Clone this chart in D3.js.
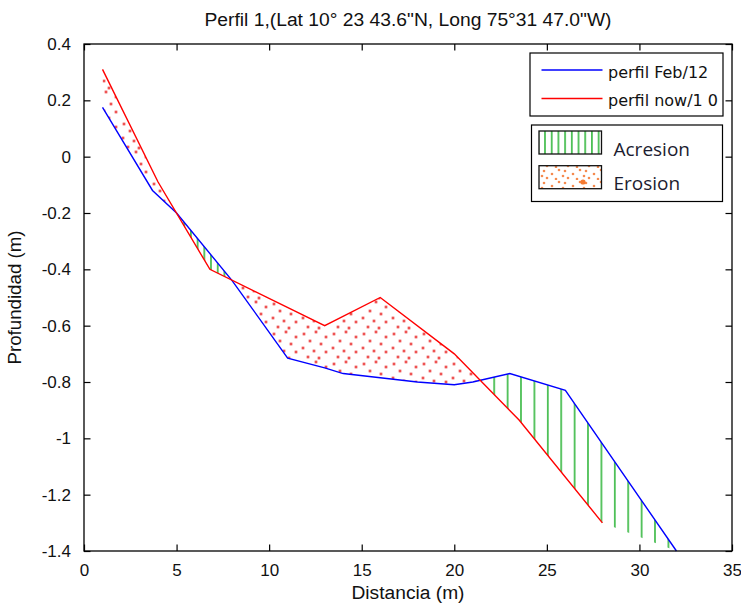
<!DOCTYPE html>
<html><head><meta charset="utf-8">
<script src="https://cdn.jsdelivr.net/npm/d3@7"></script>
<style>body{margin:0;background:#fff} svg{display:block}</style>
</head><body>
<svg id="c" width="741" height="605"></svg>
<script>
// ---- data ----
const distFeb = [1, 3.7, 5, 8, 11, 13, 14, 16, 18, 20, 21, 23, 26, 32];
const profFeb = [0.175, -0.12, -0.2, -0.44, -0.715, -0.75, -0.77, -0.785, -0.8, -0.81, -0.8, -0.77, -0.83, -1.4];
const distNov = [1, 4, 6.8, 13, 16, 20, 23.5, 28];
const profNov = [0.31, -0.09, -0.4, -0.6, -0.5, -0.7, -0.935, -1.3];
const xTicks = [0, 5, 10, 15, 20, 25, 30, 35];
const yTicks = [0.4, 0.2, 0, -0.2, -0.4, -0.6, -0.8, -1, -1.2, -1.4];
const seriesNames = ["perfil Feb/12", "perfil now/1 0"];
const fillNames = ["Acresion", "Erosion"];
const titleText = 'Perfil 1,(Lat 10\u00b0 23 43.6"N, Long 75\u00b031 47.0"W)';
const xLabel = "Distancia (m)";
const yLabel = "Profundidad (m)";

// ---- layout ----
const L = 84, R = 732, T = 44, B = 551;
const svg = d3.select("#c");
const x = d3.scaleLinear().domain([0, 35]).range([L, R]);
const y = d3.scaleLinear().domain([-1.4, 0.4]).range([B, T]);
const AX_FONT = "'Liberation Sans', Arial, sans-serif";

const blue = distFeb.map((d, i) => [d, profFeb[i]]);
const red = distNov.map((d, i) => [d, profNov[i]]);
const redExt = red.concat([blue[blue.length - 1]]);

function interp(pts, xv) {
  for (let i = 1; i < pts.length; i++) {
    const [x0, y0] = pts[i - 1], [x1, y1] = pts[i];
    if (xv >= x0 && xv <= x1) return y0 + (y1 - y0) * (xv - x0) / (x1 - x0);
  }
  return NaN;
}

// ---- defs: patterns ----
const defs = svg.append("defs");
function hatch(id, sp, ox) {
  const p = defs.append("pattern").attr("id", id).attr("patternUnits", "userSpaceOnUse")
    .attr("width", sp).attr("height", 20).attr("x", ox).attr("y", 0);
  p.append("line").attr("x1", 0.9).attr("x2", 0.9).attr("y1", 0).attr("y2", 20)
    .attr("stroke", "#4cbf55").attr("stroke-width", 1.8);
}
hatch("hatchFine", 6.7, 190);
hatch("hatchCoarse", 13.4, 493.3);
hatch("hatchLeg", 6.7, 545 - 0.9);

const dotPos = [[4,4],[16,2],[26,7],[10,11],[21,14],[3,18],[14,21],[26,22],[8,27],[19,28]];
const dp = defs.append("pattern").attr("id", "dots").attr("patternUnits", "userSpaceOnUse")
  .attr("width", 30).attr("height", 30);
dp.selectAll("circle.h").data(dotPos).join("circle").attr("cx", d => d[0]).attr("cy", d => d[1])
  .attr("r", 2.1).attr("fill", "#f9c4c4");
dp.selectAll("circle.c").data(dotPos).join("circle").attr("cx", d => d[0]).attr("cy", d => d[1])
  .attr("r", 1.2).attr("fill", "#ee5050");

const legDots = [[4,3],[12,6],[19,2],[7,10],[16,11],[2,8]];
const lp = defs.append("pattern").attr("id", "legdots").attr("patternUnits", "userSpaceOnUse")
  .attr("width", 21).attr("height", 12).attr("x", 540).attr("y", 168);
lp.selectAll("circle").data(legDots).join("circle").attr("cx", d => d[0]).attr("cy", d => d[1])
  .attr("r", 1.3).attr("fill", "#f58a4e");

// ---- difference regions ----
const grid = Array.from(new Set(distFeb.concat(distNov))).sort((a, b) => a - b);
const pts = grid.map(g => ({ x: g, b: interp(blue, g), r: interp(redExt, g) }));
const full = [pts[0]];
for (let i = 1; i < pts.length; i++) {
  const p = pts[i - 1], q = pts[i];
  const d1 = p.b - p.r, d2 = q.b - q.r;
  if (d1 * d2 < 0) {
    const t = d1 / (d1 - d2);
    const xv = p.x + t * (q.x - p.x), yv = p.b + t * (q.b - p.b);
    full.push({ x: xv, b: yv, r: yv });
  }
  full.push(q);
}
const polys = [];
let cur = [full[0]];
for (let i = 1; i < full.length; i++) {
  cur.push(full[i]);
  const d = full[i].b - full[i].r;
  if (Math.abs(d) < 1e-12 && i < full.length - 1) { polys.push(cur); cur = [full[i]]; }
}
if (cur.length > 1) polys.push(cur);

const gFill = svg.append("g");
polys.forEach(pl => {
  const s = d3.sum(pl, p => p.b - p.r);
  const ring = pl.map(p => [x(p.x), y(p.b)]).concat(pl.slice().reverse().map(p => [x(p.x), y(p.r)]));
  const wpx = x(pl[pl.length - 1].x) - x(pl[0].x);
  const fill = s > 0 ? (wpx < 80 ? "url(#hatchFine)" : "url(#hatchCoarse)") : "url(#dots)";
  gFill.append("path").attr("d", "M" + ring.map(c => c.join(",")).join("L") + "Z")
    .attr("fill", fill).attr("stroke", "none");
});

// ---- lines ----
const line = d3.line().x(d => x(d[0])).y(d => y(d[1]));
svg.append("path").datum(blue).attr("d", line).attr("fill", "none").attr("stroke", "#0000ff").attr("stroke-width", 1.4);
svg.append("path").datum(red).attr("d", line).attr("fill", "none").attr("stroke", "#ff0000").attr("stroke-width", 1.4);

// ---- axes ----
const TK = 6.5;
function styleAxis(g) {
  g.select(".domain").remove();
  g.selectAll(".tick line").attr("stroke", "#000").attr("stroke-width", 1.2);
  g.selectAll("text").attr("font-family", AX_FONT).attr("font-size", 17).attr("fill", "#111");
}
svg.append("g").attr("transform", `translate(0,${B})`)
  .call(d3.axisBottom(x).tickValues(xTicks).tickSize(-TK).tickPadding(13).tickFormat(d => String(d)))
  .call(styleAxis);
svg.append("g").attr("transform", `translate(0,${T})`)
  .call(d3.axisTop(x).tickValues(xTicks).tickSize(-TK).tickFormat(""))
  .call(styleAxis);
svg.append("g").attr("transform", `translate(${L},0)`)
  .call(d3.axisLeft(y).tickValues(yTicks).tickSize(-TK).tickPadding(13).tickFormat(d => String(d)))
  .call(styleAxis);
svg.append("g").attr("transform", `translate(${R},0)`)
  .call(d3.axisRight(y).tickValues(yTicks).tickSize(-TK).tickFormat(""))
  .call(styleAxis);
svg.append("rect").attr("x", L).attr("y", T).attr("width", R - L).attr("height", B - T)
  .attr("fill", "none").attr("stroke", "#000").attr("stroke-width", 1.3);

// ---- titles ----
svg.append("text").attr("x", (L + R) / 2).attr("y", 26).attr("text-anchor", "middle")
  .attr("font-family", AX_FONT).attr("font-size", 18).attr("fill", "#111")
  .attr("textLength", 407).attr("lengthAdjust", "spacingAndGlyphs").text(titleText);
svg.append("text").attr("x", (L + R) / 2).attr("y", 599).attr("text-anchor", "middle")
  .attr("font-family", AX_FONT).attr("font-size", 18).attr("fill", "#111")
  .attr("textLength", 113).attr("lengthAdjust", "spacingAndGlyphs").text(xLabel);
svg.append("text").attr("transform", `translate(21,${(T + B) / 2}) rotate(-90)`).attr("text-anchor", "middle")
  .attr("font-family", AX_FONT).attr("font-size", 18).attr("fill", "#111")
  .attr("textLength", 134).attr("lengthAdjust", "spacingAndGlyphs").text(yLabel);

// ---- legend 1 ----
const LEG_FONT = "'DejaVu Sans', Verdana, sans-serif";
svg.append("rect").attr("x", 530).attr("y", 53).attr("width", 193).attr("height", 63)
  .attr("fill", "#fff").attr("stroke", "#000").attr("stroke-width", 1.2);
const lcol = ["#0000ff", "#ff0000"];
seriesNames.forEach((n, i) => {
  const yy = 70 + i * 28.5;
  svg.append("line").attr("x1", 541.5).attr("x2", 602.5).attr("y1", yy).attr("y2", yy)
    .attr("stroke", lcol[i]).attr("stroke-width", 1.4);
  svg.append("text").attr("x", 608).attr("y", yy + 7.5).attr("font-family", LEG_FONT)
    .attr("font-size", 16).attr("fill", "#111").text(n);
});

// ---- legend 2 ----
const FILL_FONT = "'Open Sans', 'Noto Sans', sans-serif";
svg.append("rect").attr("x", 531.5).attr("y", 125).attr("width", 191).attr("height", 76.5)
  .attr("fill", "#fff").attr("stroke", "#000").attr("stroke-width", 1.2);
const swFill = ["url(#hatchLeg)", "url(#legdots)"];
fillNames.forEach((n, i) => {
  const yy = 131 + i * 34.7;
  svg.append("rect").attr("x", 539).attr("y", yy).attr("width", 62.5).attr("height", 23)
    .attr("fill", swFill[i]).attr("stroke", "#111").attr("stroke-width", 1.3);
  svg.append("text").attr("x", 613.5).attr("y", yy + 24.5).attr("font-family", FILL_FONT)
    .attr("font-size", 19).attr("fill", "#1c1c30").text(n);
});
svg.append("circle").attr("cx", 583).attr("cy", 182).attr("r", 2.6).attr("fill", "#f57a30");
</script>
</body></html>
